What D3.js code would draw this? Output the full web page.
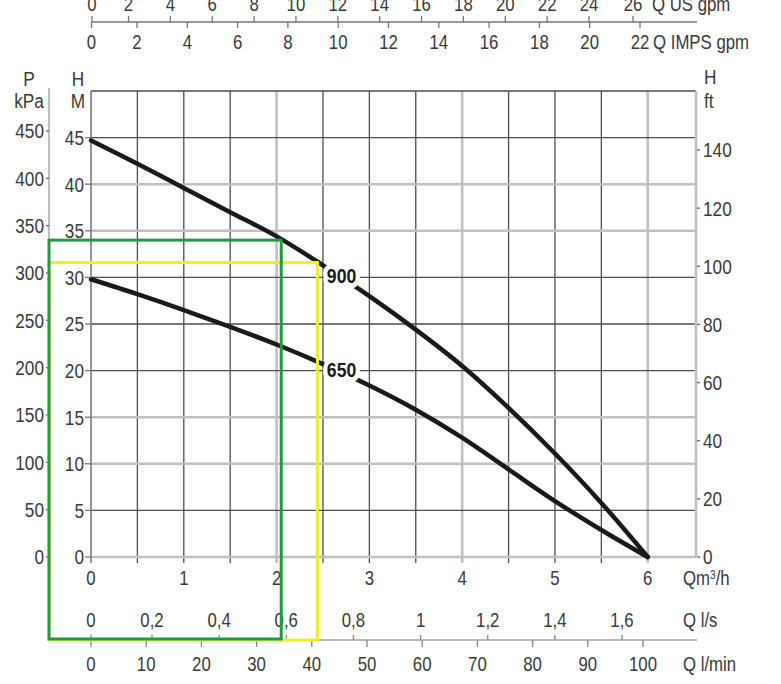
<!DOCTYPE html>
<html><head><meta charset="utf-8">
<script src="https://cdn.jsdelivr.net/npm/d3@7/dist/d3.min.js"></script>
<style>
html,body{margin:0;padding:0;background:#fff;}
svg{display:block;}
text{font-family:"Liberation Sans",Arial,sans-serif;fill:#3a3a3a;}
</style></head>
<body>
<svg id="c" width="781" height="684"></svg>
<script>
// ---- data ----
const flowQ   = [0,0.5,1,1.5,2,2.5,3,3.5,4,4.5,5,5.5,6];          // m3/h
const head900 = [44.7,42.2,39.6,37.0,34.4,31.3,28.0,24.4,20.5,16.0,11.1,5.8,0]; // m
const head650 = [29.8,28.2,26.5,24.7,22.8,20.7,18.4,15.8,12.8,9.4,6.0,2.9,0];   // m
const seriesNames = ["900","650"];
const labelQ = [2.7,2.7];
const labelH = [30.2,20.1];
const hTicks   = [0,5,10,15,20,25,30,35,40,45];
const kpaTicks = [0,50,100,150,200,250,300,350,400,450];
const ftTicks  = [0,20,40,60,80,100,120,140];
const qTicks   = [0,1,2,3,4,5,6];
const lsTicks  = [0,0.2,0.4,0.6,0.8,1,1.2,1.4,1.6];
const lsLabels = ["0","0,2","0,4","0,6","0,8","1","1,2","1,4","1,6"];
const lminTicks= [0,10,20,30,40,50,60,70,80,90,100];
const impsTicks= [0,2,4,6,8,10,12,14,16,18,20,22];
const usTicks  = [0,2,4,6,8,10,12,14,16,18,20,22,24,26];
const gridQ = [0.5,1,1.5,2,2.5,3,3.5,4,4.5,5,5.5,6];
const gridH = [5,10,15,20,25,30,35,40,45];
const lightQ = [2,4,6];
const lightH = [10,15,35,40];
// highlighted operating points (on 900 curve)
const greenPt  = {q:2.05, h:34.0};
const yellowPt = {q:2.44, h:31.6};

// ---- scales ----
const x   = d3.scaleLinear().domain([0,6.52]).range([91,696]);
const y   = d3.scaleLinear().domain([0,50]).range([557,91]);
const yFt = d3.scaleLinear().domain([0,140]).range([557,150]);
const yKp = d3.scaleLinear().domain([0,450]).range([557,131]);
const xLs = d3.scaleLinear().domain([0,0.2,1.6]).range([91,152,622]);
const xLm = d3.scaleLinear().domain([0,100]).range([91,643]);
const xIm = d3.scaleLinear().domain([0,2,22]).range([91.5,137,640]);
const xUs = d3.scaleLinear().domain([0,2,24,26]).range([92,128.5,589,633]);

const svg = d3.select("#c");
const dark="#4d4d4d", light="#c0c0c0";
const SX = 0.84; // condensed look

function texts(cls, data, fx, fy, ft, anchor, size, weight){
  return svg.selectAll("text."+cls).data(data).join("text").attr("class",cls)
    .attr("transform",(d,i)=>`translate(${fx(d,i)},${fy(d,i)}) scale(${SX},1)`)
    .attr("dy","0.36em").attr("text-anchor",anchor).attr("font-size",size)
    .attr("font-weight",weight||"normal").text(ft);
}

// grid
const g = svg.append("g");
g.selectAll(".vg").data(gridQ).join("line")
 .attr("x1",d=>x(d)).attr("x2",d=>x(d)).attr("y1",y(50)).attr("y2",563)
 .attr("stroke",d=>lightQ.includes(d)?light:dark)
 .attr("stroke-width",d=>lightQ.includes(d)?2.6:1.3);
g.selectAll(".hg").data(gridH).join("line")
 .attr("x1",x(0)).attr("x2",x(6.52)).attr("y1",d=>y(d)).attr("y2",d=>y(d))
 .attr("stroke",d=>lightH.includes(d)?light:dark)
 .attr("stroke-width",d=>lightH.includes(d)?2.6:1.3);
g.append("line").attr("x1",x(0)).attr("x2",x(6.52)).attr("y1",y(0)).attr("y2",y(0)).attr("stroke",light).attr("stroke-width",2.6);
g.append("line").attr("x1",x(0)).attr("x2",x(6.52)).attr("y1",y(50)).attr("y2",y(50)).attr("stroke",dark).attr("stroke-width",1.3);
g.append("line").attr("x1",x(6.52)).attr("x2",x(6.52)).attr("y1",y(50)).attr("y2",y(0)).attr("stroke",light).attr("stroke-width",2.6);
g.append("line").attr("x1",x(0)).attr("x2",x(0)).attr("y1",y(50)).attr("y2",563).attr("stroke","#7a7a7a").attr("stroke-width",1.6);

// curves
const line = d3.line().x(d=>x(d[0])).y(d=>y(d[1])).curve(d3.curveCatmullRom.alpha(0.5));
[head900,head650].forEach(hs=>{
  svg.append("path").attr("d",line(flowQ.map((q,i)=>[q,hs[i]])))
   .attr("fill","none").attr("stroke","#1a1a1a").attr("stroke-width",4.5).attr("stroke-linecap","round");
});
texts("cl", seriesNames, (d,i)=>x(labelQ[i]), (d,i)=>y(labelH[i]), d=>d, "middle", 21, "bold")
  .style("fill","#1a1a1a").attr("stroke","#fff").attr("stroke-width",10)
  .attr("stroke-linejoin","round").attr("paint-order","stroke");

const fs = 20.5, fb = 20;
// left H axis
svg.selectAll(".ht").data(hTicks).join("line").attr("x1",85).attr("x2",x(0)).attr("y1",d=>y(d)).attr("y2",d=>y(d)).attr("stroke","#777").attr("stroke-width",1.3);
texts("hl", hTicks, ()=>84, d=>y(d), d=>d, "end", fs);
// kPa axis
svg.append("line").attr("x1",49).attr("x2",49).attr("y1",88).attr("y2",y(0)).attr("stroke","#aaa").attr("stroke-width",1.5);
svg.selectAll(".kt").data(kpaTicks).join("line").attr("x1",46).attr("x2",49).attr("y1",d=>yKp(d)).attr("y2",d=>yKp(d)).attr("stroke","#666").attr("stroke-width",1.3);
texts("kl", kpaTicks, ()=>44, d=>yKp(d), d=>d, "end", fs);
// ft axis
svg.selectAll(".ftt").data(ftTicks).join("line").attr("x1",697).attr("x2",700).attr("y1",d=>yFt(d)).attr("y2",d=>yFt(d)).attr("stroke","#666").attr("stroke-width",1.3);
texts("fl", ftTicks, ()=>703, d=>yFt(d), d=>d, "start", fs);
// unit titles
const units = [["P",29,79,"middle"],["kPa",29,101,"middle"],["H",78,79,"middle"],["M",78,101,"middle"],["H",704,77,"start"],["ft",704,101,"start"]];
texts("ut", units, d=>d[1], d=>d[2], d=>d[0], "start", fs).attr("text-anchor",d=>d[3]);

// bottom Q m3/h
texts("ql", qTicks, d=>x(d), ()=>578, d=>d, "middle", fb);
const qt = svg.append("text").attr("transform",`translate(683,578) scale(${SX},1)`).attr("dy","0.36em").attr("font-size",fb);
qt.append("tspan").text("Qm"); qt.append("tspan").attr("font-size",12).attr("dy","-0.55em").text("3");
qt.append("tspan").attr("dy","0.33em").text("/h");
// l/s & l/min axis
svg.append("line").attr("x1",91).attr("x2",697).attr("y1",640).attr("y2",640).attr("stroke","#bbb").attr("stroke-width",2.2);
svg.selectAll(".lst").data(lsTicks).join("line").attr("x1",d=>xLs(d)).attr("x2",d=>xLs(d)).attr("y1",635).attr("y2",640).attr("stroke","#888").attr("stroke-width",1.3);
texts("lsl", lsTicks, d=>xLs(d), ()=>620, (d,i)=>lsLabels[i], "middle", fb);
svg.selectAll(".lmt").data(lminTicks).join("line").attr("x1",d=>xLm(d)).attr("x2",d=>xLm(d)).attr("y1",640).attr("y2",647).attr("stroke","#888").attr("stroke-width",1.3);
texts("lml", lminTicks, d=>xLm(d), ()=>664, d=>d, "middle", fb);

// top axes
svg.append("line").attr("x1",91).attr("x2",697).attr("y1",22).attr("y2",22).attr("stroke","#777").attr("stroke-width",1.4);
svg.selectAll(".imt").data(impsTicks).join("line").attr("x1",d=>xIm(d)).attr("x2",d=>xIm(d)).attr("y1",22).attr("y2",28).attr("stroke","#777").attr("stroke-width",1.3);
texts("iml", impsTicks, d=>xIm(d), ()=>42, d=>d, "middle", fb);
svg.selectAll(".ust").data(usTicks).join("line").attr("x1",d=>xUs(d)).attr("x2",d=>xUs(d)).attr("y1",16).attr("y2",22).attr("stroke","#777").attr("stroke-width",1.3);
texts("usl", usTicks, d=>xUs(d), ()=>4, d=>d, "middle", fb);
const axisTitles = [["Q l/s",683,620],["Q l/min",683,664],["Q IMPS gpm",653,42],["Q US gpm",652,4]];
texts("at", axisTitles, d=>d[1], d=>d[2], d=>d[0], "start", fb);

// highlight rectangles
svg.append("rect").attr("x",49).attr("y",y(yellowPt.h)).attr("width",x(yellowPt.q)-49).attr("height",640-y(yellowPt.h))
 .attr("fill","none").attr("stroke","#f2ee22").attr("stroke-width",3);
svg.append("rect").attr("x",49).attr("y",y(greenPt.h)).attr("width",x(greenPt.q)-49).attr("height",639-y(greenPt.h))
 .attr("fill","none").attr("stroke","#1e9c40").attr("stroke-width",3);
</script>
</body></html>
